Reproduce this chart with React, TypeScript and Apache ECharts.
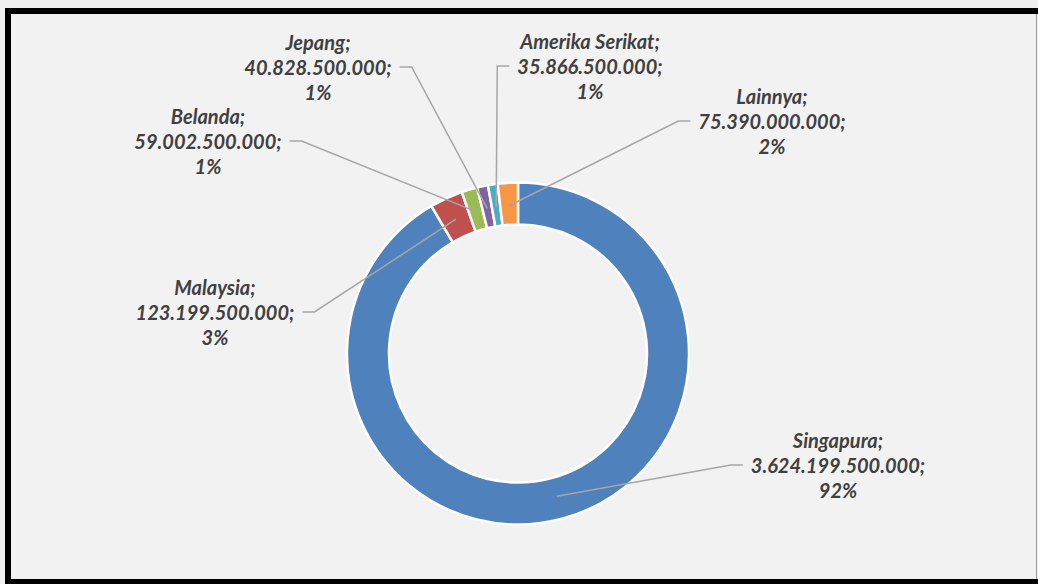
import React, { useEffect, useRef } from 'react';
import * as echarts from 'echarts';

const categories = ['Singapura', 'Malaysia', 'Belanda', 'Jepang', 'Amerika Serikat', 'Lainnya'];
const values = [3624199500000, 123199500000, 59002500000, 40828500000, 35866500000, 75390000000];
const colors = ['#4f81bd', '#c0504d', '#9bbb59', '#8064a2', '#4bacc6', '#f79646'];

// layout: label block centres and which side the leader line leaves from
const labelCenters = [[838, 465], [215, 312], [208, 141], [318, 67], [590, 66], [772, 121]];
const leaderSide = [-1, 1, 1, 1, -1, -1];

const CX = 518;
const CY = 353.5;
const R0 = 129;
const R1 = 171;
const RL = 148;
const FONT_SIZE = 20;

const fmt = (v: number) => String(v).replace(/\B(?=(\d{3})+(?!\d))/g, '.');

export default function App() {
  const ref = useRef<HTMLDivElement>(null);
  useEffect(() => {
    if (!ref.current) return;
    const chart = echarts.init(ref.current, undefined, { renderer: 'svg' });
    const total = values.reduce((a, b) => a + b, 0);
    const cum: number[] = [];
    let acc = 0;
    values.forEach((v) => {
      cum.push(acc);
      acc += v;
    });
    const labelText = (i: number) =>
      `${categories[i]};\n${fmt(values[i])};\n${Math.round((values[i] / total) * 100)}%`;

    const canvas = document.createElement('canvas');
    const ctx = canvas.getContext('2d')!;
    ctx.font = `italic bold ${FONT_SIZE}px Lato`;

    const leaders = categories.map((_, i) => {
      const [lx, ly] = labelCenters[i];
      const w = Math.max(...labelText(i).split('\n').map((s) => ctx.measureText(s).width));
      const side = leaderSide[i];
      const endX = lx + side * (w / 2 + 8);
      const elbowX = endX + side * 12;
      const theta = (2 * Math.PI * (cum[i] + values[i] / 2)) / total;
      const sx = CX + RL * Math.sin(theta);
      const sy = CY - RL * Math.cos(theta);
      return {
        type: 'polyline',
        z: 100,
        silent: true,
        shape: {
          points: [
            [sx, sy],
            [elbowX, ly],
            [endX, ly],
          ],
        },
        style: { stroke: '#a6a6a6', lineWidth: 1.5, fill: null },
      };
    });

    chart.setOption({
      animation: false,
      backgroundColor: '#f0f0f0',
      graphic: [
        {
          type: 'rect',
          z: -10,
          silent: true,
          shape: { x: 8, y: 11, width: 1040, height: 571 },
          style: { fill: '#f2f2f2', stroke: '#000', lineWidth: 6 },
        },
        {
          type: 'line',
          z: -9,
          silent: true,
          shape: { x1: 1036.5, y1: 14, x2: 1036.5, y2: 579 },
          style: { stroke: '#9a9a9a', lineWidth: 1 },
        },
        ...leaders,
      ],
      series: [
        {
          type: 'pie',
          center: [CX, CY],
          radius: [R0, R1],
          startAngle: 90,
          clockwise: true,
          avoidLabelOverlap: false,
          emphasis: { disabled: true },
          itemStyle: { borderColor: '#ffffff', borderWidth: 2.5 },
          label: {
            show: true,
            position: 'outside',
            color: '#404040',
            fontFamily: 'Lato',
            fontWeight: 'bold',
            fontStyle: 'italic',
            fontSize: FONT_SIZE,
            lineHeight: 25,
            align: 'center',
            formatter: (p: any) => labelText(p.dataIndex),
          },
          labelLine: { show: false },
          labelLayout: (params: any) => {
            const [lx, ly] = labelCenters[params.dataIndex];
            return { x: lx, y: ly, align: 'center', verticalAlign: 'middle' };
          },
          data: categories.map((name, i) => ({
            name,
            value: values[i],
            itemStyle: { color: colors[i] },
          })),
        },
      ],
    });
    return () => chart.dispose();
  }, []);
  return (
    <div
      ref={ref}
      style={{ position: 'fixed', left: 0, top: 0, width: 1038, height: 584 }}
    />
  );
}
